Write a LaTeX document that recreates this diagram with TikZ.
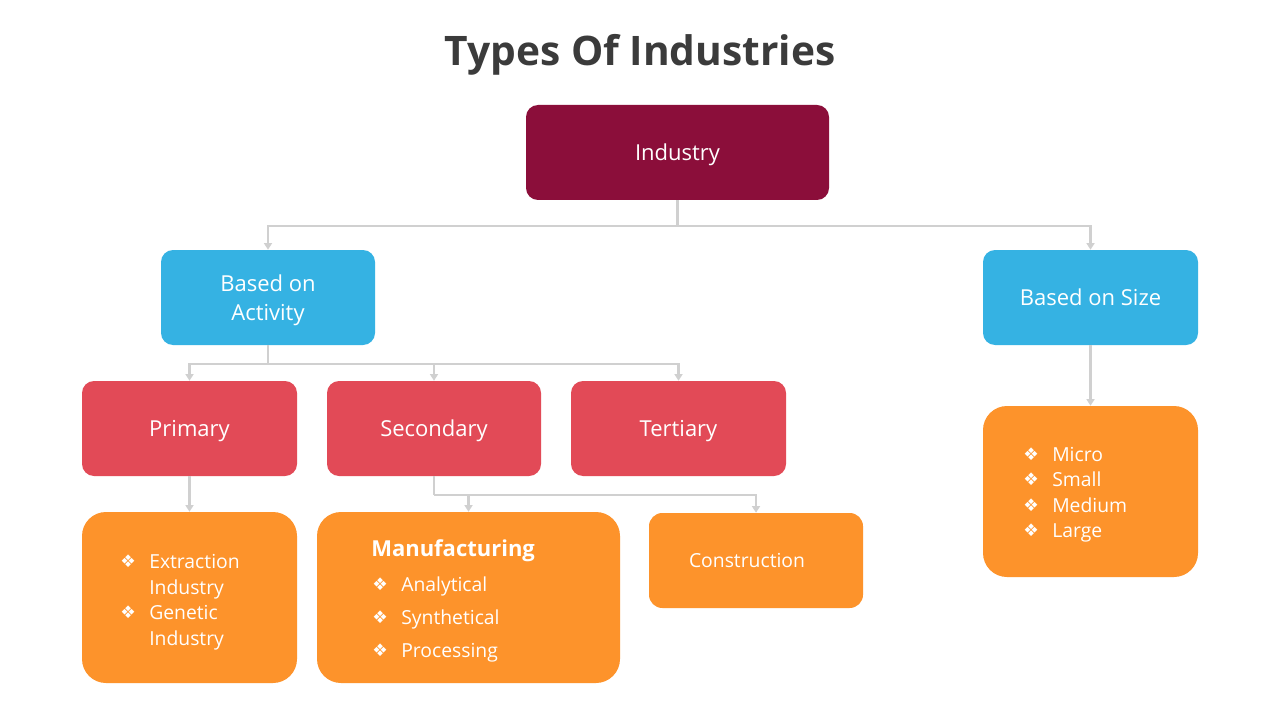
\documentclass[tikz,border=0pt]{standalone}
\usepackage{fontspec}
\setmainfont{Open Sans}
\newfontfamily\symfont{DejaVu Sans}
\usetikzlibrary{arrows.meta}
\definecolor{indred}{HTML}{8B0E3A}
\definecolor{actblue}{HTML}{35B2E3}
\definecolor{catred}{HTML}{E24A57}
\definecolor{listorange}{HTML}{FD932B}
\definecolor{connGray}{HTML}{D0D0D0}
\definecolor{titleGray}{HTML}{3B3B3B}
\newcommand{\bul}{{\symfont\fontsize{13}{13}\selectfont\char"2756}}
\tikzset{
  x=0.75pt, y=-0.75pt,
  boxbase/.style={text=white, align=center, inner sep=0pt,
    text height=15.5pt, text depth=3pt,
    font=\fontsize{16.5}{22}\selectfont},
  smallbox/.style={boxbase, rounded corners=9pt, minimum height=71.25pt},
  listbox/.style={boxbase, rounded corners=18pt, fill=listorange, minimum height=128.25pt},
  conn/.style={draw=connGray, line width=2pt, -{Triangle[width=6pt,length=5pt]}},
  connline/.style={draw=connGray, line width=2pt},
  itemtxt/.style={anchor=base west, text=white, inner sep=0pt, font=\fontsize{14.5}{17}\selectfont},
  bultxt/.style={anchor=base west, text=white, inner sep=0pt},
}
\begin{document}
\begin{tikzpicture}
\useasboundingbox (0,0) rectangle (1280,720);
\fill[white] (0,0) rectangle (1280,720);

\node[text=titleGray, font=\bfseries\fontsize{30.5}{36}\selectfont] (title) at (640,55) {Types Of Industries};

% boxes
\node[smallbox, fill=indred, minimum width=227.25pt] (ind) at (677.5,152.5) {Industry};
\node[smallbox, fill=actblue, minimum width=160.5pt, text height=37.5pt] (act) at (268,297.5) {Based on\\Activity};
\node[smallbox, fill=actblue, minimum width=161.25pt] (size) at (1090.5,297.5) {Based on Size};
\node[smallbox, fill=catred, minimum width=161.25pt] (prim) at (189.5,428.5) {Primary};
\node[smallbox, fill=catred, minimum width=160.5pt] (sec) at (434,428.5) {Secondary};
\node[smallbox, fill=catred, minimum width=161.25pt] (ter) at (678.5,428.5) {Tertiary};
\node[listbox, minimum width=161.25pt] (plist) at (189.5,597.5) {};
\node[listbox, minimum width=227.25pt] (mlist) at (468.5,597.5) {};
\node[boxbase, rounded corners=10pt, fill=listorange, minimum width=160.5pt, minimum height=71.25pt] (con) at (756,560.5) {};
\node[listbox, minimum width=161.25pt] (slist) at (1090.5,491.5) {};

% connectors
\coordinate (j1) at (677.5,226);
\coordinate (j2) at (268,364);
\coordinate (j3) at (434,495);
\draw[connline] (ind.south) -- (j1);
\draw[conn] (j1) -| (act.north);
\draw[conn] (j1) -| (size.north);
\draw[connline] (act.south) -- (j2);
\draw[conn] (j2) -| (prim.north);
\draw[conn] (j2) -| (sec.north);
\draw[conn] (j2) -| (ter.north);
\draw[conn] (prim.south) -- (plist.north);
\draw[connline] (sec.south) -- (j3);
\draw[conn] (j3) -| (mlist.north);
\draw[conn] (j3) -| (con.north);
\draw[conn] (size.south) -- (slist.north);

% primary list
\node[bultxt] (pb1) at (120,567) {\bul};
\node[itemtxt] (pt1) at (149,568) {Extraction};
\node[itemtxt] (pt2) at (149,594) {Industry};
\node[bultxt] (pb2) at (120,618) {\bul};
\node[itemtxt] (pt3) at (149,619) {Genetic};
\node[itemtxt] (pt4) at (149,645) {Industry};

% manufacturing list
\node[itemtxt, font=\bfseries\fontsize{16.5}{19}\selectfont] (mt0) at (371,556) {Manufacturing};
\node[bultxt] (mb1) at (372,590) {\bul};
\node[itemtxt] (mt1) at (401,591) {Analytical};
\node[bultxt] (mb2) at (372,623) {\bul};
\node[itemtxt] (mt2) at (401,624) {Synthetical};
\node[bultxt] (mb3) at (372,656) {\bul};
\node[itemtxt] (mt3) at (401,657) {Processing};

% construction
\node[itemtxt, anchor=base] (ct) at (747,567) {Construction};

% size list
\node[bultxt] (sb1) at (1023,460) {\bul};
\node[itemtxt] (st1) at (1052,461) {Micro};
\node[bultxt] (sb2) at (1023,485) {\bul};
\node[itemtxt] (st2) at (1052,486) {Small};
\node[bultxt] (sb3) at (1023,511) {\bul};
\node[itemtxt] (st3) at (1052,512) {Medium};
\node[bultxt] (sb4) at (1023,536) {\bul};
\node[itemtxt] (st4) at (1052,537) {Large};
\end{tikzpicture}
\end{document}
